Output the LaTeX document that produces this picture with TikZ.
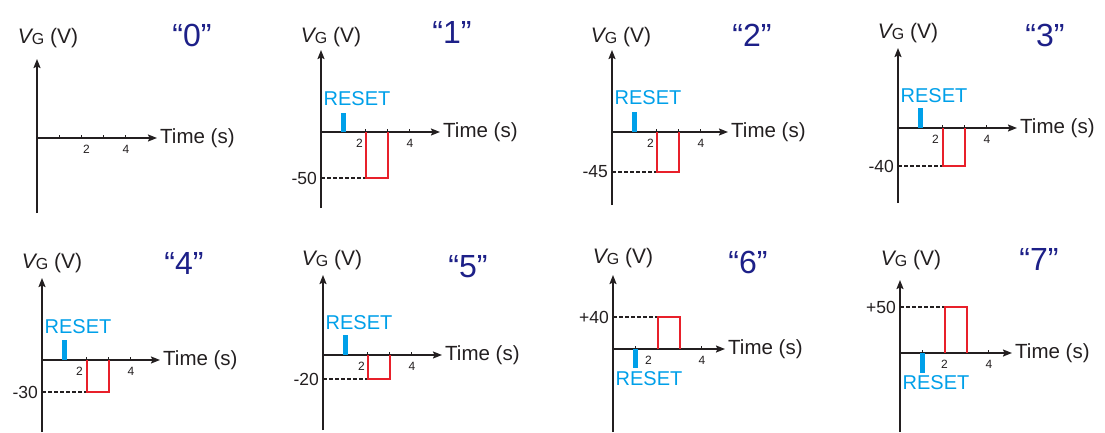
\documentclass[tikz,border=0pt]{standalone}
\usepackage{fontspec}
\setmainfont{Liberation Sans}
\usetikzlibrary{arrows.meta,calc}
\definecolor{ink}{HTML}{231F20}
\definecolor{navy}{HTML}{1D2088}
\definecolor{rst}{HTML}{00A0E9}
\definecolor{pulsered}{HTML}{E8202A}
\tikzset{
 axisline/.style={draw=ink, line width=1.6pt, -{Stealth[length=9pt,width=7pt,inset=1.5pt]}},
 tickmark/.style={draw=ink, line width=1pt},
 ticklbl/.style={inner sep=0pt, text=ink, font=\fontsize{12}{12}\selectfont},
 timelbl/.style={inner sep=0pt, anchor=west, text=ink, font=\fontsize{20.5}{22}\selectfont},
 vglbl/.style={inner sep=0pt, text=ink, font=\fontsize{21}{22}\selectfont},
 titlelbl/.style={inner sep=0pt, text=navy, font=\fontsize{32}{34}\selectfont},
 vallbl/.style={inner sep=0pt, anchor=east, text=ink, font=\fontsize{17.5}{18}\selectfont},
 resetlbl/.style={inner sep=0pt, text=rst, font=\fontsize{20}{22}\selectfont},
 resetbar/.style={draw=rst, line width=4.5pt},
 pulseline/.style={draw=pulsered, line width=1.8pt, line join=miter},
 guide/.style={draw=ink, line width=1.1pt, dash pattern=on 3.5pt off 2.5pt},
}
% id, ox, oy, top y, bottom y, tip x, offset of label "2"
\newcommand{\vgaxes}[7]{%
  \coordinate (o#1) at (#2,#3);
  \coordinate (yt#1) at (#2,#4);
  \coordinate (yb#1) at (#2,#5);
  \coordinate (xt#1) at (#6,#3);
  \foreach \k in {1,...,4}{\draw[tickmark] ($(o#1)+(22*\k+0.5,0)$) -- ++(0,-3.5);}
  \draw[axisline] (yb#1) -- (yt#1);
  \draw[axisline] (o#1) -- (xt#1);
  \node[ticklbl] (two#1) at ($(o#1)+(44.5+#7,11)$) {2};
  \node[ticklbl] (four#1) at ($(o#1)+(89,11)$) {4};
  \node[timelbl] (time#1) at ($(xt#1)+(3,0)$) {Time (s)};
}
% id, bar length (signed), label offset (signed)
\newcommand{\vgreset}[3]{%
  \coordinate (rb#1) at ($(o#1)+(22.5,0)$);
  \coordinate (re#1) at ($(rb#1)+(0,#2)$);
  \draw[resetbar] (rb#1) -- (re#1);
  \node[resetlbl] (reset#1) at ($(o#1)+(36,#3)$) {RESET};
}
% id, level offset (signed), value label
\newcommand{\vgpulse}[3]{%
  \coordinate (pa#1) at ($(o#1)+(45,0)$);
  \coordinate (pb#1) at ($(o#1)+(67,0)$);
  \coordinate (la#1) at ($(pa#1)+(0,#2)$);
  \coordinate (lb#1) at ($(pb#1)+(0,#2)$);
  \coordinate (ly#1) at ($(o#1)+(0,#2)$);
  \draw[guide] (ly#1) -- (la#1);
  \draw[pulseline] (pa#1) -- (la#1) -- (lb#1) -- (pb#1);
  \node[vallbl] (val#1) at ($(ly#1)+(-4,0)$) {#3};
}
\newcommand{\vgtext}{{\itshape V}\raisebox{-1.5pt}{\fontsize{16}{16}\selectfont G} (V)}
\begin{document}
\begin{tikzpicture}[x=1pt,y=-1pt]
\useasboundingbox[fill=white] (0,0) rectangle (1105,432);
% "0"
\vgaxes{0}{37}{138}{59}{213}{157}{5}
\node[vglbl] (vg0) at (48,38) {\vgtext};
\node[titlelbl] (title0) at (192,35) {“0”};
% "1"
\vgaxes{1}{321}{132}{50}{208}{440}{-6}
\vgreset{1}{-19}{-33}
\vgpulse{1}{46}{-50}
\node[vglbl] (vg1) at (331,37) {\vgtext};
\node[titlelbl] (title1) at (452,32) {“1”};
% "2"
\vgaxes{2}{612}{132}{50}{205}{728}{-6}
\vgreset{2}{-20}{-34}
\vgpulse{2}{40}{-45}
\node[vglbl] (vg2) at (621,37) {\vgtext};
\node[titlelbl] (title2) at (752,35) {“2”};
% "3"
\vgaxes{3}{898}{128}{48}{203}{1017}{-7}
\vgreset{3}{-20}{-32}
\vgpulse{3}{38}{-40}
\node[vglbl] (vg3) at (908,33) {\vgtext};
\node[titlelbl] (title3) at (1045,35) {“3”};
% "4"
\vgaxes{4}{42}{360}{278}{432}{160}{-7}
\vgreset{4}{-20}{-33}
\vgpulse{4}{32}{-30}
\node[vglbl] (vg4) at (52,263) {\vgtext};
\node[titlelbl] (title4) at (184,263) {“4”};
% "5"
\vgaxes{5}{323}{355}{275}{430}{442}{-6}
\vgreset{5}{-20}{-32}
\vgpulse{5}{24}{-20}
\node[vglbl] (vg5) at (332,260) {\vgtext};
\node[titlelbl] (title5) at (468,267) {“5”};
% "6"
\vgaxes{6}{613}{349}{275}{432}{725}{-9}
\vgreset{6}{19}{30}
\vgpulse{6}{-32}{+40}
\node[vglbl] (vg6) at (623,258) {\vgtext};
\node[titlelbl] (title6) at (748,262) {“6”};
% "7"
\vgaxes{7}{900}{353}{280}{432}{1012}{0}
\vgreset{7}{20}{30}
\vgpulse{7}{-46}{+50}
\node[vglbl] (vg7) at (911,260) {\vgtext};
\node[titlelbl] (title7) at (1039,259) {“7”};
\end{tikzpicture}
\end{document}
